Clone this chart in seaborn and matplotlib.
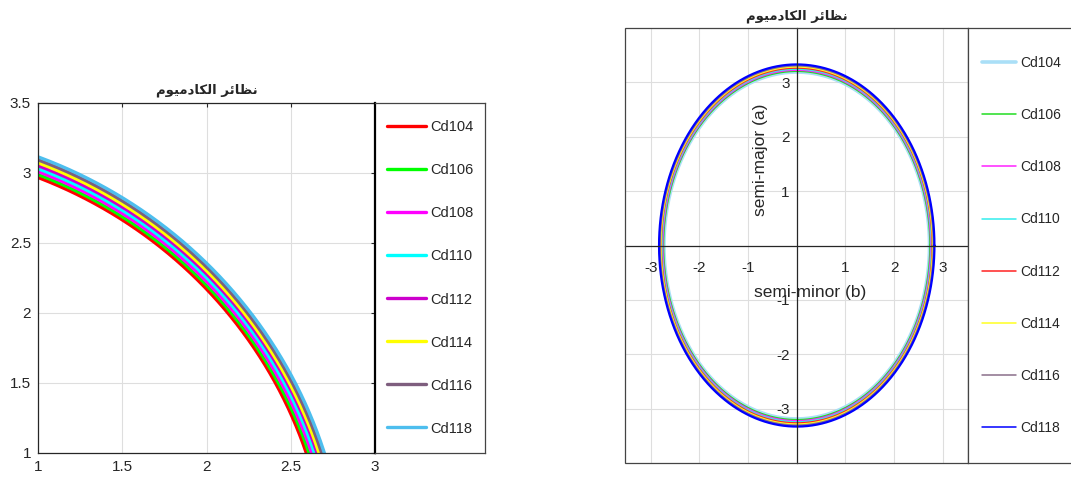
import matplotlib

matplotlib.use("Agg")
import matplotlib.pyplot as plt
import numpy as np
import pandas as pd
import seaborn as sns
from matplotlib.lines import Line2D
from matplotlib.patches import Rectangle
from matplotlib.ticker import FormatStrFormatter

# cadmium isotopes: semi-major (a) and semi-minor (b) axes
isotopes = ["Cd104", "Cd106", "Cd108", "Cd110", "Cd112", "Cd114", "Cd116", "Cd118"]
semi_major = [3.19, 3.21, 3.23, 3.25, 3.27, 3.29, 3.31, 3.33]
semi_minor = [2.73, 2.745, 2.76, 2.775, 2.79, 2.80, 2.815, 2.83]

colors_left = ["#ff0000", "#00ff00", "#ff00ff", "#00ffff", "#cc00cc", "#ffff00", "#7e5e7e", "#4dbeee"]
colors_right = ["#aadff7", "#22dd22", "#ff22ff", "#33eeee", "#ff2222", "#ffff22", "#8a6f8a", "#0000ff"]

left_xticks = [1, 1.5, 2, 2.5, 3]
left_yticks = [1, 1.5, 2, 2.5, 3, 3.5]
right_xticks = [-3, -2, -1, 1, 2, 3]
right_yticks = [-3, -2, -1, 1, 2, 3]

# "نظائر الكادميوم" in shaped presentation forms, visual order (matplotlib has no bidi)
title = "\ufee1\ufeee\ufef4\ufee3\ufea9\ufe8e\ufedc\ufedf\ufe8d \ufeae\ufe8b\ufe8e\ufec8\ufee7"

theta = np.linspace(0, 2 * np.pi, 1441)
frames = []
for iso, a, b in zip(isotopes, semi_major, semi_minor):
    frames.append(pd.DataFrame({"isotope": iso, "t": theta, "x": b * np.cos(theta), "y": a * np.sin(theta)}))
df = pd.concat(frames, ignore_index=True)

sns.set_theme(style="white")
plt.rcParams["font.family"] = ["Liberation Sans", "DejaVu Sans"]
plt.rcParams["axes.unicode_minus"] = False
text_col = "#262626"
grid_col = "#dedede"

fig = plt.figure(figsize=(10.71, 4.79), dpi=100)
W, H = 1071, 479


def fig_box(x0, y0, x1, y1):
    return [x0 / W, 1 - y1 / H, (x1 - x0) / W, (y1 - y0) / H]


# ---- left panel: zoomed quarter arcs ----
ax1 = fig.add_axes(fig_box(38, 103, 375, 453))
sns.lineplot(data=df, x="x", y="y", hue="isotope", palette=colors_left, sort=False,
             estimator=None, units="isotope", legend=False, linewidth=2.4, ax=ax1)
ax1.set_xlim(1, 3)
ax1.set_ylim(1, 3.5)
ax1.set_xticks(left_xticks)
ax1.set_yticks(left_yticks)
ax1.xaxis.set_major_formatter(FormatStrFormatter("%g"))
ax1.yaxis.set_major_formatter(FormatStrFormatter("%g"))
ax1.grid(True, color=grid_col, linewidth=0.8)
ax1.set_xlabel("")
ax1.set_ylabel("")
ax1.tick_params(direction="in", length=3, width=0.8, top=True, right=True,
                labelsize=11, colors=text_col, pad=5)
for s in ax1.spines.values():
    s.set_color(text_col)
    s.set_linewidth(0.9)
ax1.set_title(title, family=["DejaVu Sans"], fontweight="bold", fontsize=9.5, color=text_col, pad=7)

leg1 = fig.add_axes(fig_box(375, 103, 485, 453))
leg1.set_xticks([])
leg1.set_yticks([])
for name, s in leg1.spines.items():
    s.set_color("black" if name == "left" else "#444444")
    s.set_linewidth(1.6 if name == "left" else 0.9)
h1 = [Line2D([], [], color=c, linewidth=2.4) for c in colors_left]
leg1.legend(h1, isotopes, loc="center left", bbox_to_anchor=(12 / 110, 0.5), frameon=False,
            borderpad=0, borderaxespad=0, handlelength=2.7, handletextpad=0.25,
            labelspacing=1.99, fontsize=10.5, labelcolor=text_col)

# ---- right panel: full ellipses with origin axes ----
ax2 = fig.add_axes(fig_box(625, 28, 968, 463))
sns.lineplot(data=df, x="x", y="y", hue="isotope", palette=colors_right, size="isotope",
             sizes={iso: (2.6 if iso == "Cd104" else 1.6) for iso in isotopes}, sort=False,
             estimator=None, units="isotope", legend=False, ax=ax2)
ax2.set_xlim(-3.53, 3.52)
ax2.set_ylim(-4, 4)
ax2.set_xticks(right_xticks)
ax2.set_yticks(right_yticks)
ax2.grid(True, color=grid_col, linewidth=0.8)
ax2.set_xlabel("")
ax2.set_ylabel("")
ax2.spines["left"].set_position(("data", 0))
ax2.spines["bottom"].set_position(("data", 0))
ax2.spines["top"].set_visible(False)
ax2.spines["right"].set_visible(False)
for name in ("left", "bottom"):
    ax2.spines[name].set_color(text_col)
    ax2.spines[name].set_linewidth(0.9)
ax2.add_patch(Rectangle((0, 0), 1, 1, transform=ax2.transAxes, fill=False,
                        edgecolor="#444444", linewidth=0.9, clip_on=False, zorder=5))
ax2.tick_params(axis="x", direction="in", length=3, width=0.8, labelsize=11, colors=text_col, pad=11)
ax2.tick_params(axis="y", direction="in", length=3, width=0.8, labelsize=11, colors=text_col, pad=5)
ax2.text(0.539, 0.393, "semi-minor (b)", transform=ax2.transAxes, ha="center", va="center",
         fontsize=12.5, color=text_col)
ax2.text(0.394, 0.697, "semi-major (a)", transform=ax2.transAxes, ha="center", va="center",
         rotation=90, fontsize=12.5, color=text_col)
ax2.set_title(title, family=["DejaVu Sans"], fontweight="bold", fontsize=9.5, color=text_col, pad=6)

leg2 = fig.add_axes(fig_box(968, 28, 1085, 463))
leg2.set_xticks([])
leg2.set_yticks([])
for s in leg2.spines.values():
    s.set_color("#444444")
    s.set_linewidth(0.9)
h2 = [Line2D([], [], color=c, linewidth=(2.6 if i == 0 else 1.1)) for i, c in enumerate(colors_right)]
leg2.legend(h2, isotopes, loc="center left", bbox_to_anchor=(14 / 117, 0.5), frameon=False,
            borderpad=0, borderaxespad=0, handlelength=2.45, handletextpad=0.3,
            labelspacing=2.75, fontsize=10, labelcolor=text_col)

fig.savefig("out.png", dpi=100)
